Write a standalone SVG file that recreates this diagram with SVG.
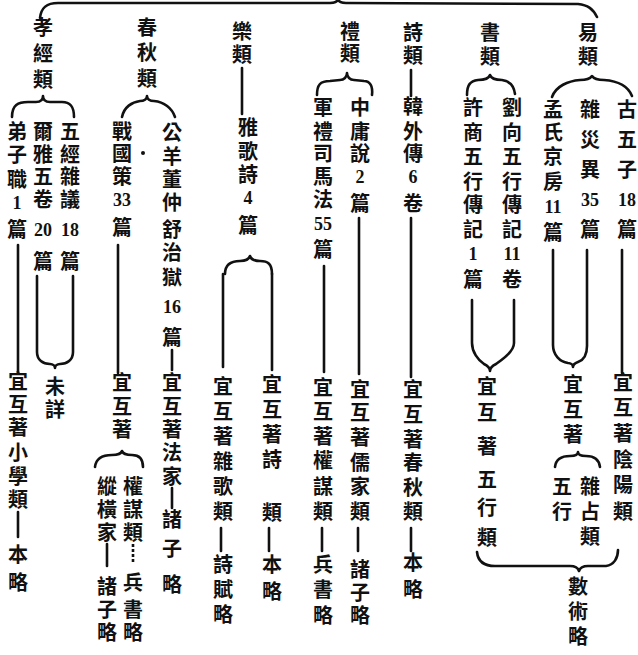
<svg xmlns="http://www.w3.org/2000/svg" width="638" height="655" viewBox="0 0 638 655">
<style>
text{font-family:"Noto Sans CJK TC","Noto Sans CJK SC",sans-serif;font-size:20px;font-weight:bold;text-anchor:middle;fill:#111}
text.n{font-family:"Liberation Serif",serif;font-size:18px;font-weight:bold}
.c path{stroke:#111;stroke-width:2.6;fill:none;stroke-linecap:round;stroke-linejoin:round}
.c .d{stroke-dasharray:3 2;stroke-linecap:butt}
</style>
<rect width="638" height="655" fill="#fff"/>
<g class="c" id="connectors">
<path d="M40,18 C41,8 46,3 58,3 L330,3 Q337,3 338,-1 Q339,3 346,3 L578,4 C588,5 593,9 597,17"/>
<path d="M12,117 C12,105 18,102 28,102 L36,102 C41,102 43,100 43,96 C43,100 45,102 50,102 L62,102 C70,102 74,106 74,117"/>
<path d="M122,117 C124,107 132,102 140,101 C144,101 147,99 147,96 C147,99 150,101 154,101 C164,102 172,108 175,117"/>
<path d="M317,95 C317,85 320,81 330,81 L340,80 C344,80 347,77 347,73 C347,77 350,80 354,80 L364,81 C370,81 373,86 372,95"/>
<path d="M467,95 C467,85 470,81 478,80 C484,80 489,78 490,75 C491,78 496,80 502,80 C510,81 514,86 515,94"/>
<path d="M552,97 C556,86 568,81 580,80 C586,80 590,79 592,76 C594,79 598,80 604,80 C618,81 628,86 632,96"/>
<path d="M242,68 V114"/>
<path d="M225,274 C225,264 232,261 240,261 C245,261 249,259 250,256 C251,259 255,261 260,261 C268,261 272,264 272,274"/>
<path d="M223,274 V367"/>
<path d="M272,274 V370"/>
<path d="M411,70 V96"/>
<path d="M411,218 V377"/>
<path d="M359,218 V374"/>
<path d="M324,266 V372"/>
<path d="M472,300 V343 C472,352 478,360 484,364 C488,366 490,368 490,371 C490,368 492,366 496,364 C502,360 514,352 514,343 V300"/>
<path d="M622,250 V373"/>
<path d="M553,250 V345 C553,355 560,362 568,363 C571,363 573,365 573,367 C573,365 575,363 578,362 C584,360 587,354 587,346 V250"/>
<path d="M555,467 C556,458 563,456 570,456 C575,456 578,455 578,452 C578,455 581,456 586,456 C594,456 599,459 600,467"/>
<path d="M477,552 C478,562 485,566 495,566 L570,566 C575,566 578,568 579,571 C580,568 583,566 588,566 L606,566 C614,565 618,558 618,550"/>
<path d="M118,245 V373"/>
<path d="M172,350 V370"/>
<path d="M172,488 V508"/>
<path d="M95,467 C96,458 103,455 112,455 C117,455 121,454 122,451 C123,454 127,455 132,455 C139,455 143,459 143,467"/>
<path d="M107,544 V566"/>
<path class="d" d="M133,544 V563"/>
<path d="M18,245 V373"/>
<path d="M37,276 V352 C37,360 43,364 50,364 C53,364 55,366 55,368 C55,366 57,364 60,364 C67,364 73,360 73,352 V276"/>
<path d="M18,512 V537"/>
<path d="M221,528 V551"/>
<path d="M269,528 V551"/>
<path d="M322,528 V551"/>
<path d="M358,528 V551"/>
<path d="M411,528 V551"/>
</g>
<g id="n-xiaojing"><text x="43 43 43" y="35 61 87">孝經類</text></g>
<g id="n-chunqiu"><text x="147 147 147" y="35 60 86">春秋類</text></g>
<g id="n-yue"><text x="242 242" y="39 62">樂類</text></g>
<g id="n-li"><text x="350 350" y="39 61">禮類</text></g>
<g id="n-shi"><text x="413 413" y="40 63">詩類</text></g>
<g id="n-shu"><text x="490 490" y="40 64">書類</text></g>
<g id="n-yi"><text x="588 588" y="40 64">易類</text></g>
<g id="n-guwuzi"><text x="627 627 627" y="117 147 177">古五子</text><text class="n" x="627" y="206">18</text><text x="627" y="237">篇</text></g>
<g id="n-zaizaiyi"><text x="590 590 590" y="117 147 177">雜災異</text><text class="n" x="590" y="206">35</text><text x="590" y="237">篇</text></g>
<g id="n-mengshi"><text x="553 553 553 553" y="117 140 164 189">孟氏京房</text><text class="n" x="553" y="213">11</text><text x="553" y="240">篇</text></g>
<g id="n-liuxiang"><text x="512 512 512 512 512 512" y="115 140 164 189 212 237">劉向五行傳記</text><text class="n" x="512" y="260">11</text><text x="512" y="287">卷</text></g>
<g id="n-xushang"><text x="473 473 473 473 473 473" y="115 140 164 189 212 237">許商五行傳記</text><text class="n" x="473" y="260">1</text><text x="473" y="287">篇</text></g>
<g id="n-hanwaizhuan"><text x="413 413 413" y="114 139 161">韓外傳</text><text class="n" x="413" y="183">6</text><text x="413" y="211">卷</text></g>
<g id="n-zhongyong"><text x="360 360 360" y="115 139 161">中庸說</text><text class="n" x="360" y="183">2</text><text x="360" y="211">篇</text></g>
<g id="n-junli"><text x="323 323 323 323 323" y="115 139 161 184 207">軍禮司馬法</text><text class="n" x="323" y="230">55</text><text x="323" y="257">篇</text></g>
<g id="n-yageshi"><text x="248 248 248" y="135 159 182">雅歌詩</text><text class="n" x="248" y="204">4</text><text x="248" y="233">篇</text></g>
<g id="n-gongyang"><text x="172 172 172 172 172 172 172" y="140 164 187 210 237 260 285">公羊董仲舒治獄</text><text class="n" x="172" y="313">16</text><text x="172" y="345">篇</text></g>
<g id="n-zhanguoce"><text x="122 122 122" y="139 161 184">戰國策</text><text class="n" x="122" y="206">33</text><text x="122" y="235">篇</text><circle cx="143" cy="153" r="2" fill="#111"/></g>
<g id="n-wujing"><text x="70 70 70 70" y="139 162 184 207">五經雜議</text><text class="n" x="70" y="236">18</text><text x="70" y="269">篇</text></g>
<g id="n-erya"><text x="43 43 43 43" y="139 162 184 207">爾雅五卷</text><text class="n" x="43" y="236">20</text><text x="43" y="269">篇</text></g>
<g id="n-dizizhi"><text x="17 17 17" y="139 162 187">弟子職</text><text class="n" x="17" y="209">1</text><text x="17" y="237">篇</text></g>
<g id="n-yinyang"><text x="623 623 623 623 623 623" y="390 415 441 467 492 519">宜互著陰陽類</text></g>
<g id="n-yi-huzhu"><text x="573 573 573" y="392 417 442">宜互著</text></g>
<g id="n-zazhan"><text x="590 590 590" y="494 519 544">雜占類</text></g>
<g id="n-wuxing"><text x="562 562" y="494 519">五行</text></g>
<g id="n-shushu"><text x="578 578 578" y="594 619 644">數術略</text></g>
<g id="n-wuxinglei"><text x="487 487 487 487 487 487" y="394 420 454 487 515 545">宜互著五行類</text></g>
<g id="n-chunqiulei"><text x="413 413 413 413 413 413" y="397 422 447 470 495 519">宜互著春秋類</text></g>
<g id="n-benlue1"><text x="413 413" y="570 597">本略</text></g>
<g id="n-rujia"><text x="360 360 360 360 360 360" y="397 420 445 470 494 519">宜互著儒家類</text></g>
<g id="n-zhuzi1"><text x="360 360 360" y="577 600 623">諸子略</text></g>
<g id="n-quanmou1"><text x="323 323 323 323 323 323" y="395 419 444 468 494 519">宜互著權謀類</text></g>
<g id="n-bingshu1"><text x="323 323 323" y="572 597 623">兵書略</text></g>
<g id="n-shilei"><text x="272 272 272 272 272" y="392 417 442 467 520">宜互著詩類</text></g>
<g id="n-benlue2"><text x="272 272" y="572 599">本略</text></g>
<g id="n-zagelei"><text x="223 223 223 223 223 223" y="394 419 444 469 494 519">宜互著雜歌類</text></g>
<g id="n-shifu"><text x="223 223 223" y="572 597 622">詩賦略</text></g>
<g id="n-fajia"><text x="172 172 172 172 172" y="390 414 437 460 484">宜互著法家</text></g>
<g id="n-zhuzi2"><text x="172 172 172" y="527 556 592">諸子略</text></g>
<g id="n-cq-huzhu"><text x="122 122 122" y="390 414 437">宜互著</text></g>
<g id="n-quanmou2"><text x="133 133 133" y="494 517 540">權謀類</text></g>
<g id="n-bingshu2"><text x="133 133 133" y="590 617 640">兵書略</text></g>
<g id="n-zongheng"><text x="107 107 107" y="494 517 540">縱橫家</text></g>
<g id="n-zhuzi3"><text x="107 107 107" y="594 617 640">諸子略</text></g>
<g id="n-weixiang"><text x="55 55" y="394 417">未詳</text></g>
<g id="n-xiaoxue"><text x="18 18 18 18 18 18" y="389 412 435 460 484 507">宜互著小學類</text></g>
<g id="n-benlue3"><text x="18 18" y="562 590">本略</text></g>
</svg>
